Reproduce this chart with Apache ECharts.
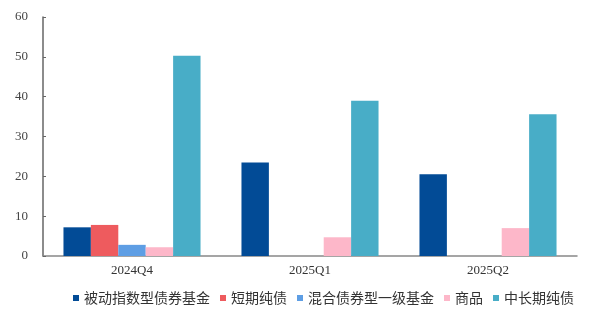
<!DOCTYPE html>
<html>
<head>
<meta charset="utf-8">
<script src="https://cdn.jsdelivr.net/npm/echarts@6/dist/echarts.min.js"></script>
<style>html,body{margin:0;padding:0;background:#fff;}#c{width:591px;height:312px;}</style>
</head>
<body>
<div id="c"></div>
<script>
const categories = ['2024Q4', '2025Q1', '2025Q2'];
const seriesNames = ['被动指数型债券基金', '短期纯债', '混合债券型一级基金', '商品', '中长期纯债'];
const passiveIndex = [7.2, 23.5, 20.5];
const shortTerm = [7.8, 0, 0];
const mixedLevel1 = [2.8, 0, 0];
const commodity = [2.2, 4.7, 7.0];
const midLongTerm = [50.3, 39.0, 35.6];
const yTicks = [0, 10, 20, 30, 40, 50, 60];
const colors = ['#024B96', '#EE5B5E', '#5E9EE4', '#FDB7C9', '#48ADC7'];

const values = [passiveIndex, shortTerm, mixedLevel1, commodity, midLongTerm];
const chart = echarts.init(document.getElementById('c'));
chart.setOption({
  animation: false,
  grid: { left: 43, right: 14, top: 17, bottom: 56 },
  legend: {
    top: 286,
    left: 68,
    itemWidth: 6,
    itemHeight: 6,
    itemGap: 10,
    icon: 'rect',
    textStyle: { fontFamily: 'Noto Sans CJK SC', fontSize: 14, color: '#333' },
    data: seriesNames
  },
  xAxis: {
    type: 'category',
    data: categories,
    axisLine: { lineStyle: { color: '#888', width: 1.5 } },
    axisTick: { show: false },
    axisLabel: { fontFamily: 'Liberation Serif', fontSize: 13, color: '#333', margin: 8 }
  },
  yAxis: {
    type: 'value',
    min: yTicks[0],
    max: yTicks[yTicks.length - 1],
    interval: 10,
    splitLine: { show: false },
    axisLine: { show: true, lineStyle: { color: '#666', width: 1.5 } },
    axisTick: { show: true, inside: true, length: 3, lineStyle: { color: '#666' } },
    axisLabel: { fontFamily: 'Liberation Serif', fontSize: 13, color: '#444', margin: 15 }
  },
  series: seriesNames.map((n, i) => ({
    name: n,
    type: 'bar',
    data: values[i],
    barGap: 0,
    barCategoryGap: '23%',
    itemStyle: { color: colors[i] }
  }))
});
</script>
</body>
</html>
